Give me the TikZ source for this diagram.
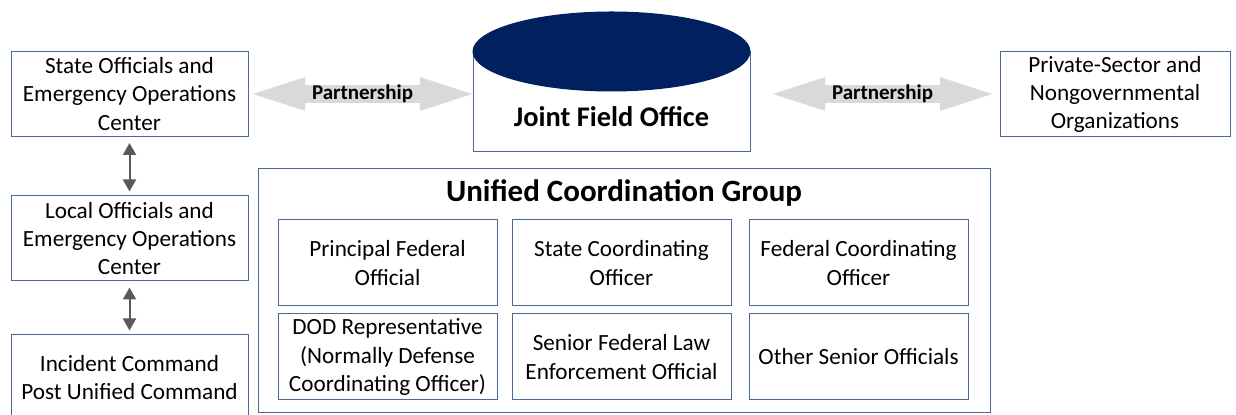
\documentclass[tikz,border=0pt]{standalone}
\usepackage{fontspec}
\setmainfont{Carlito}
\usetikzlibrary{arrows.meta,positioning,shapes.arrows}
\definecolor{boxline}{HTML}{4A6A96}
\definecolor{jfonavy}{HTML}{002060}
\definecolor{partgray}{HTML}{D9D9D9}
\definecolor{linkgray}{HTML}{595959}
\tikzset{every node/.append style={transform shape=false}}
\tikzset{orgbox/.style={draw=boxline, line width=0.5pt, fill=white, align=center,
    inner sep=0pt, minimum width=109.5pt, minimum height=43pt,
    font=\fontsize{11.6}{14.2}\selectfont}}
\tikzset{sidebox/.style={orgbox, minimum width=118.5pt, minimum height=42.5pt}}
\tikzset{headline/.style={font=\fontsize{15.5}{18}\selectfont\bfseries}}
\tikzset{partarrow/.style={double arrow, fill=partgray, draw=none, minimum height=109.5pt,
    double arrow head extend=4pt, double arrow tip angle=36, inner xsep=0pt, inner ysep=0.5pt,
    text height=6.4pt, text depth=1.1pt, font=\fontsize{10.5}{12}\selectfont\bfseries}}
\tikzset{updown/.style={{Triangle[width=6.5pt,length=6pt]}-{Triangle[width=6.5pt,length=6pt]},
    draw=linkgray, line width=1pt}}

\begin{document}
\begin{tikzpicture}[x=0.5pt, y=-0.5pt]
\useasboundingbox (0,0) rectangle (1236,415);
\clip (0,0) rectangle (1236,415);

\node[sidebox] (state) at (129.5,94) {State Officials and\\Emergency Operations\\Center};
\node[sidebox] (local) at (129.5,238.5) {Local Officials and\\Emergency Operations\\Center};
\node[sidebox] (icp) at (129.5,377.5) {Incident Command\\Post Unified Command};
\node[sidebox, minimum width=115pt] (private) at (1115,94.5) {Private-Sector and\\Nongovernmental\\Organizations};

\node[orgbox, minimum width=138.5pt, minimum height=50pt] (jfo) at (611.5,102) {};
\fill[jfonavy] (jfo.north) ellipse (69.5pt and 20pt);
\node[headline, font=\fontsize{14.2}{17}\selectfont\bfseries] (jfotitle) at (611.5,117) {Joint Field Office};

\node[partarrow] (leftpart) at (362.5,94) {Partnership};
\node[partarrow] (rightpart) at (882.5,94) {Partnership};

\node[orgbox, minimum width=366pt, minimum height=122pt] (ucg) at (624,291) {};
\node[headline] (ucgtitle) at (624,193) {Unified Coordination Group};
\node[orgbox] (pfo) at (387.5,263) {Principal Federal\\Official};
\node[orgbox] (sco) at (621.5,263) {State Coordinating\\Officer};
\node[orgbox] (fco) at (858.5,263) {Federal Coordinating\\Officer};
\node[orgbox] (dod) at (387.5,357) {DOD Representative\\(Normally Defense\\Coordinating Officer)};
\node[orgbox] (sfleo) at (621.5,357) {Senior Federal Law\\Enforcement Official};
\node[orgbox] (other) at (858.5,357) {Other Senior Officials};

\foreach \a/\b in {state/local,local/icp}
\draw[updown, shorten <=3pt, shorten >=2pt] (\a) -- (\b);

\end{tikzpicture}
\end{document}
